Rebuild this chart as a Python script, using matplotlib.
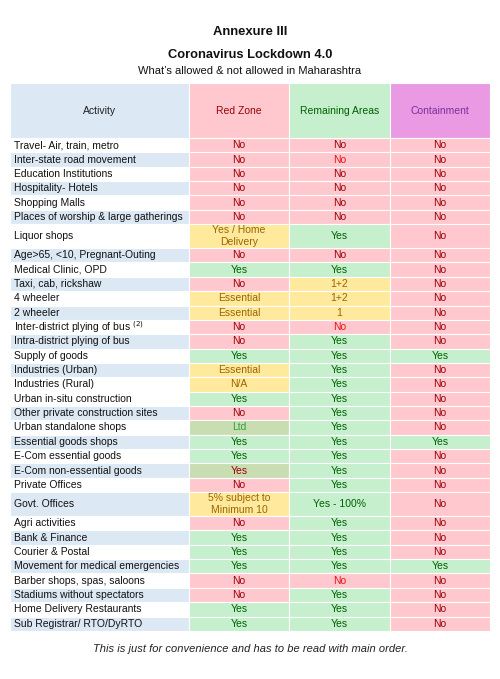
import matplotlib
matplotlib.use("Agg")
import matplotlib.pyplot as plt
from matplotlib.patches import Rectangle

plt.rcParams['font.family'] = ['Liberation Sans', 'DejaVu Sans']

title = "Annexure III"
subtitle1 = "Coronavirus Lockdown 4.0"
subtitle2 = "What\u2019s allowed & not allowed in Maharashtra"
footnote = "This is just for convenience and has to be read with main order."

columns = ["Activity", "Red Zone", "Remaining Areas", "Containment"]

activities = [
    "Travel- Air, train, metro", "Inter-state road movement", "Education Institutions",
    "Hospitality- Hotels", "Shopping Malls", "Places of worship & large gatherings",
    "Liquor shops", "Age>65, <10, Pregnant-Outing", "Medical Clinic, OPD",
    "Taxi, cab, rickshaw", "4 wheeler", "2 wheeler", "Inter-district plying of bus $^{(2)}$",
    "Intra-district plying of bus", "Supply of goods", "Industries (Urban)",
    "Industries (Rural)", "Urban in-situ construction", "Other private construction sites",
    "Urban standalone shops", "Essential goods shops", "E-Com essential goods",
    "E-Com non-essential goods", "Private Offices", "Govt. Offices", "Agri activities",
    "Bank & Finance", "Courier & Postal", "Movement for medical emergencies",
    "Barber shops, spas, saloons", "Stadiums without spectators",
    "Home Delivery Restaurants", "Sub Registrar/ RTO/DyRTO",
]

red_zone = [
    "No", "No", "No", "No", "No", "No", "Yes / Home\nDelivery", "No", "Yes", "No",
    "Essential", "Essential", "No", "No", "Yes", "Essential", "N/A", "Yes", "No",
    "Ltd", "Yes", "Yes", "Yes", "No", "5% subject to\nMinimum 10", "No", "Yes",
    "Yes", "Yes", "No", "No", "Yes", "Yes",
]

remaining = [
    "No", "No", "No", "No", "No", "No", "Yes", "No", "Yes", "1+2", "1+2", "1",
    "No", "Yes", "Yes", "Yes", "Yes", "Yes", "Yes", "Yes", "Yes", "Yes", "Yes",
    "Yes", "Yes - 100%", "Yes", "Yes", "Yes", "Yes", "No", "Yes", "Yes", "Yes",
]

containment = [
    "No", "No", "No", "No", "No", "No", "No", "No", "No", "No", "No", "No", "No",
    "No", "Yes", "No", "No", "No", "No", "No", "Yes", "No", "No", "No", "No", "No",
    "No", "No", "Yes", "No", "No", "No", "No",
]

# style annotations (row shading of activity column, special cell styles)
activity_shaded = [False, True, False, True, False, True, False, True, False, True,
                   False, True, False, True, False, True, False, False, True, False,
                   True, False, True, False, True, False, True, False, True, False,
                   True, False, True]
bright_red_cells = {(1, 2), (12, 2), (29, 2)}
special_cells = {(19, 1): ("#c8deb2", "#2fa33a"), (22, 1): ("#c8deb2", "#9c0006")}

# palette
PINK, PINK_T = "#ffc7ce", "#9c0006"
GREEN, GREEN_T = "#c6efce", "#006100"
YELLOW, YELLOW_T = "#ffe99c", "#9c6500"
BLUE = "#dce8f4"
VIOLET, VIOLET_T = "#e99ae3", "#7a2f9e"
BRIGHT_RED = "#ee1111"


def cell_style(val):
    if val.startswith("No"):
        return PINK, PINK_T
    if val.startswith("Yes") and "Home" not in val:
        return GREEN, GREEN_T
    return YELLOW, YELLOW_T


W, H = 500, 679
fig = plt.figure(figsize=(W / 100, H / 100), dpi=100)
ax = fig.add_axes([0, 0, 1, 1])
ax.set_xlim(0, W)
ax.set_ylim(H, 0)
ax.axis("off")

col_edges = [10, 189, 289, 390, 490]
header_top, header_h = 83, 55
row_h, row_h2 = 14.35, 24.0
fs = 7.5

ax.text(250, 32, title, ha="center", va="center", fontsize=9.4, fontweight="bold",
        color="#111111")
ax.text(250, 55, subtitle1, ha="center", va="center", fontsize=9.3, fontweight="bold",
        color="#111111")
ax.text(250, 71, subtitle2, ha="center", va="center", fontsize=8.0, color="#111111")

# header
head_styles = [(BLUE, "#222222"), (PINK, PINK_T), (GREEN, GREEN_T), (VIOLET, VIOLET_T)]
for j, name in enumerate(columns):
    x0, x1 = col_edges[j], col_edges[j + 1]
    bg, tc = head_styles[j]
    ax.add_patch(Rectangle((x0, header_top), x1 - x0, header_h, facecolor=bg,
                           edgecolor="white", linewidth=0.8))
    ax.text((x0 + x1) / 2, header_top + header_h / 2, name, ha="center", va="center",
            fontsize=fs, color=tc)

y = header_top + header_h
cols = [red_zone, remaining, containment]
for i, act in enumerate(activities):
    vals = [c[i] for c in cols]
    h = row_h2 if any("\n" in v for v in vals) else row_h
    yc = y + h / 2
    x0, x1 = col_edges[0], col_edges[1]
    ax.add_patch(Rectangle((x0, y), x1 - x0, h,
                           facecolor=BLUE if activity_shaded[i] else "white",
                           edgecolor="white", linewidth=0.8))
    ax.text(x0 + 4.5, yc, act, ha="left", va="center", fontsize=fs, color="#111111")
    for j, v in enumerate(vals, start=1):
        bg, tc = cell_style(v)
        if (i, j) in special_cells:
            bg, tc = special_cells[(i, j)]
        if (i, j) in bright_red_cells:
            tc = BRIGHT_RED
        x0, x1 = col_edges[j], col_edges[j + 1]
        ax.add_patch(Rectangle((x0, y), x1 - x0, h, facecolor=bg,
                               edgecolor="white", linewidth=0.8))
        ax.text((x0 + x1) / 2, yc, v, ha="center", va="center", fontsize=fs,
                color=tc, linespacing=1.25)
    y += h

ax.text(250, 649, footnote, ha="center", va="center", fontsize=8.0,
        style="italic", color="#222222")

fig.savefig("out.png", dpi=100)
